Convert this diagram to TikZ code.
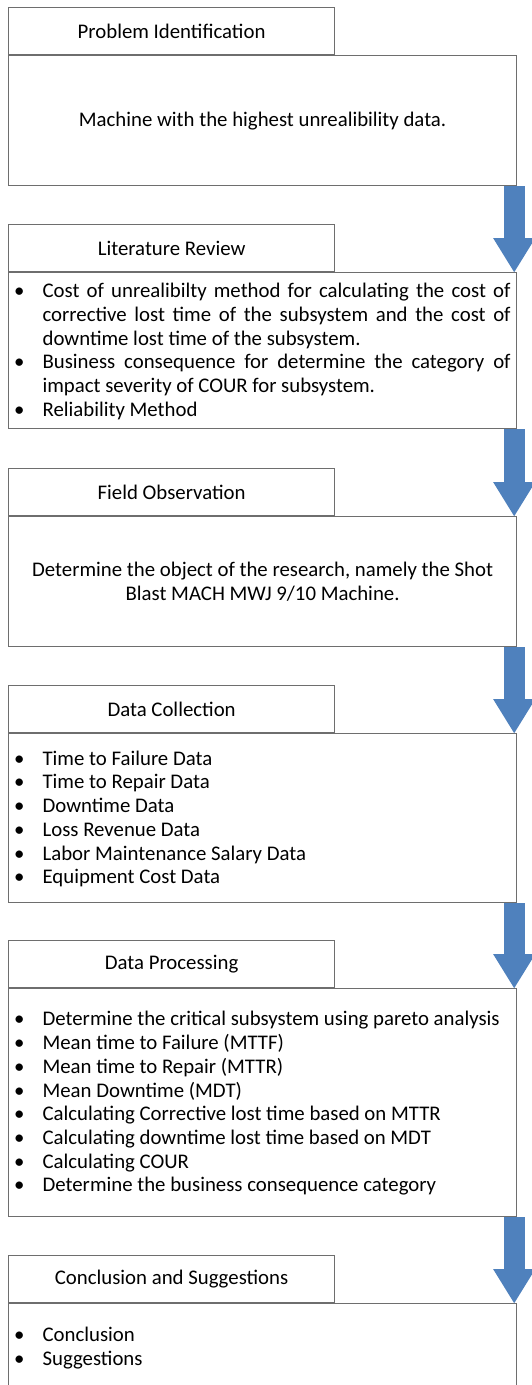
\documentclass[tikz,border=0pt]{standalone}
\usepackage{fontspec}
\setmainfont{Carlito}
\usetikzlibrary{arrows.meta}
\definecolor{flowblue}{RGB}{79,129,189}
\definecolor{boxgray}{RGB}{110,110,110}
\newenvironment{dotlist}{\begin{list}{\textbullet}{%
  \setlength\leftmargin{34pt}\setlength\rightmargin{6pt}%
  \setlength\labelwidth{12pt}\setlength\labelsep{18pt}%
  \setlength\itemsep{0pt}\setlength\parsep{0pt}%
  \setlength\topsep{0pt}\setlength\partopsep{0pt}}}{\end{list}\par\kern8pt}
\begin{document}
\begin{tikzpicture}[x=1pt, y=1pt,
    every node/.style={font=\fontsize{20.8}{23.7}\selectfont},
    stagetitle/.style={draw=boxgray, line width=1.2pt, minimum width=326pt,
      minimum height=47pt, anchor=north west, inner sep=0pt},
    stagebody/.style={draw=boxgray, line width=1.2pt, minimum width=508pt,
      text width=508pt, anchor=north west, inner sep=0pt},
    flow/.style={flowblue, line width=21pt,
      -{Triangle[width=42pt, length=34pt, line width=0pt]}}]
    \useasboundingbox (0,0) rectangle (532,-1385);

    \node[stagetitle] (PI) at (8,-7) {Problem Identification};
    \node[stagebody, minimum height=130pt, align=flush center] (PIbody) at (PI.south west)
      {Machine with the highest unrealibility data.};

    \node[stagetitle] (LR) at (8,-224) {Literature Review};
    \node[stagebody, minimum height=156pt, align=justify] (LRbody) at (LR.south west) {%
      \begin{dotlist}
        \item Cost of unrealibilty method for calculating the cost of\linebreak
          corrective lost time of the subsystem and the cost of\linebreak
          downtime lost time of the subsystem.
        \item Business consequence for determine the category of\linebreak
          impact severity of COUR for subsystem.
        \item Reliability Method
      \end{dotlist}};

    \node[stagetitle] (FO) at (8,-468) {Field Observation};
    \node[stagebody, minimum height=130pt, align=flush center] (FObody) at (FO.south west)
      {Determine the object of the research, namely the Shot\\
       Blast MACH MWJ 9/10 Machine.};

    \node[stagetitle] (DC) at (8,-685) {Data Collection};
    \node[stagebody, minimum height=169pt, align=justify] (DCbody) at (DC.south west) {%
      \begin{dotlist}
        \item Time to Failure Data
        \item Time to Repair Data
        \item Downtime Data
        \item Loss Revenue Data
        \item Labor Maintenance Salary Data
        \item Equipment Cost Data
      \end{dotlist}};

    \node[stagetitle] (DP) at (8,-940) {Data Processing};
    \node[stagebody, minimum height=228pt, align=justify] (DPbody) at (DP.south west) {%
      \begin{dotlist}
        \item Determine the critical subsystem using pareto analysis
        \item Mean time to Failure (MTTF)
        \item Mean time to Repair (MTTR)
        \item Mean Downtime (MDT)
        \item Calculating Corrective lost time based on MTTR
        \item Calculating downtime lost time based on MDT
        \item Calculating COUR
        \item Determine the business consequence category
      \end{dotlist}};

    \node[stagetitle] (CS) at (8,-1255) {Conclusion and Suggestions};
    \node[stagebody, minimum height=87pt, align=justify] (CSbody) at (CS.south west) {%
      \begin{dotlist}
        \item Conclusion
        \item Suggestions
      \end{dotlist}};

    % block arrows between the stages
    \draw[flow] ([xshift=-3pt]PIbody.south east) -- ([xshift=-3pt]LRbody.north east);
    \draw[flow] ([xshift=-3pt]LRbody.south east) -- ([xshift=-3pt]FObody.north east);
    \draw[flow] ([xshift=-3pt]FObody.south east) -- ([xshift=-3pt]DCbody.north east);
    \draw[flow] ([xshift=-3pt]DCbody.south east) -- ([xshift=-3pt]DPbody.north east);
    \draw[flow] ([xshift=-3pt]DPbody.south east) -- ([xshift=-3pt]CSbody.north east);
\end{tikzpicture}
\end{document}
